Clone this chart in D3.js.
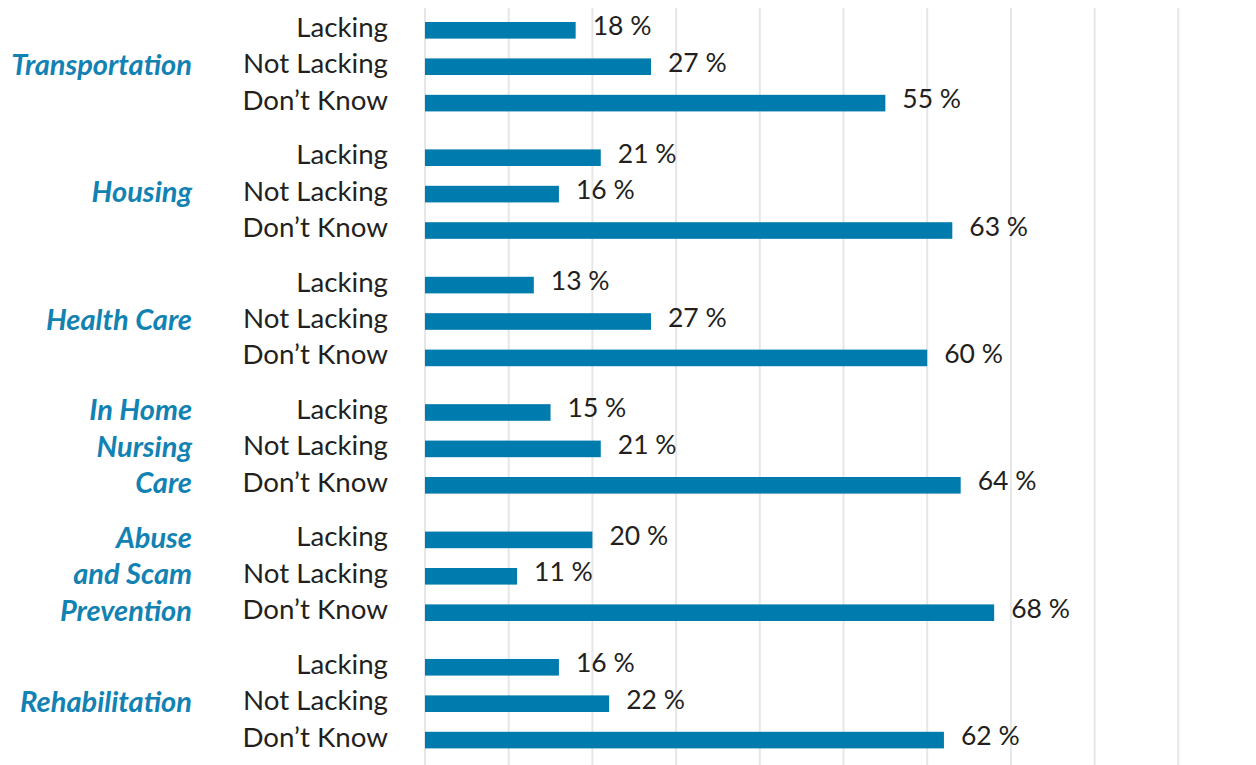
<!DOCTYPE html>
<html>
<head>
<meta charset="utf-8">
<script src="https://cdn.jsdelivr.net/npm/d3@7"></script>
<style>
  body { margin: 0; background: #fff; }
  svg { display: block; }
</style>
</head>
<body>
<div id="chart"></div>
<script>
var svgWidth = 1256;
var svgHeight = 765;

// categories (lines of the italic label) and responses
var categories = ["Transportation", "Housing", "Health Care", "In Home Nursing Care", "Abuse and Scam Prevention", "Rehabilitation"];
var categoryLines = [["Transportation"], ["Housing"], ["Health Care"], ["In Home", "Nursing", "Care"], ["Abuse", "and Scam", "Prevention"], ["Rehabilitation"]];
var responses = ["Lacking", "Not Lacking", "Don\u2019t Know"];

// percent values per category, in the order of responses
var lackingValues = [18, 21, 13, 15, 20, 16];
var notLackingValues = [27, 16, 27, 21, 11, 22];
var dontKnowValues = [55, 63, 60, 64, 68, 62];
var gridTicks = [0, 10, 20, 30, 40, 50, 60, 70, 80, 90, 100];

var rows = [];
categories.forEach(function(c, i) {
  rows.push({ cat: c, resp: responses[0], value: lackingValues[i] });
  rows.push({ cat: c, resp: responses[1], value: notLackingValues[i] });
  rows.push({ cat: c, resp: responses[2], value: dontKnowValues[i] });
});

var barColor = "#007bad";
var catColor = "#1282b3";
var textColor = "#231f20";

var svg = d3.select("#chart")
  .append("svg")
  .attr("width", svgWidth)
  .attr("height", svgHeight);

var xScale = d3.scaleLinear()
  .domain([0, 100])
  .range([425, 1262]);

var yOuter = d3.scaleBand()
  .domain(categories)
  .range([22, 748.4])
  .paddingInner(0.298)
  .paddingOuter(0);

var yInner = d3.scaleBand()
  .domain(responses)
  .range([0, yOuter.bandwidth()])
  .paddingInner(0.544)
  .paddingOuter(0);

function rowY(d) {
  return yOuter(d.cat) + yInner(d.resp);
}

// grid lines
svg.append("g")
  .selectAll("line")
  .data(gridTicks)
  .enter()
  .append("line")
  .attr("x1", d => xScale(d))
  .attr("x2", d => xScale(d))
  .attr("y1", 8)
  .attr("y2", svgHeight)
  .attr("stroke", "#e6e6e6")
  .attr("stroke-width", 2);

// bars
svg.append("g")
  .selectAll("rect")
  .data(rows)
  .enter()
  .append("rect")
  .attr("x", xScale(0))
  .attr("y", d => rowY(d))
  .attr("width", d => xScale(d.value) - xScale(0))
  .attr("height", yInner.bandwidth())
  .attr("fill", barColor);

// value labels
svg.append("g")
  .selectAll("text")
  .data(rows)
  .enter()
  .append("text")
  .attr("x", d => xScale(d.value) + 17)
  .attr("y", d => rowY(d) + yInner.bandwidth() / 2 + 5)
  .attr("font-family", "Lato, sans-serif")
  .attr("font-size", 26.5)
  .attr("fill", textColor)
  .text(d => d.value + " %");

// response labels
svg.append("g")
  .selectAll("text")
  .data(rows)
  .enter()
  .append("text")
  .attr("x", 388)
  .attr("y", d => rowY(d) + yInner.bandwidth() / 2 + 6.5)
  .attr("text-anchor", "end")
  .attr("font-family", "Lato, sans-serif")
  .attr("font-size", 27.7)
  .attr("fill", textColor)
  .text(d => d.resp);

// category labels
var catGroups = svg.append("g")
  .selectAll("g")
  .data(categories)
  .enter()
  .append("g");

catGroups.each(function(c, i) {
  var lines = categoryLines[i];
  var start = lines.length === 1 ? 1 : 0;
  d3.select(this).selectAll("text")
    .data(lines)
    .enter()
    .append("text")
    .attr("x", 192)
    .attr("y", (l, j) => yOuter(c) + yInner(responses[start + j]) + yInner.bandwidth() / 2 + 8)
    .attr("text-anchor", "end")
    .attr("font-family", "Lato, sans-serif")
    .attr("font-style", "italic")
    .attr("font-weight", 700)
    .attr("font-size", 29)
    .attr("fill", catColor)
    .text(l => l);
});
</script>
</body>
</html>
